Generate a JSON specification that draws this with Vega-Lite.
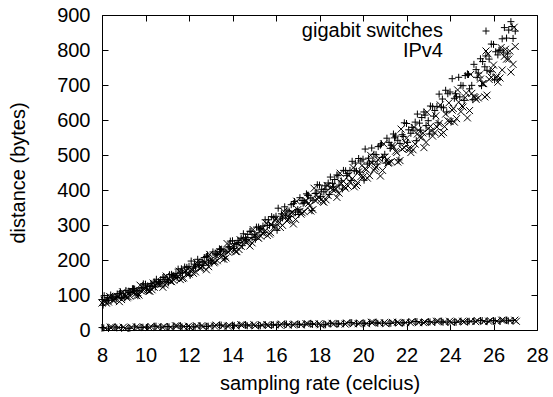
{
"$schema": "https://vega.github.io/schema/vega-lite/v6.json",
"width": 435, "height": 315,
"autosize": "none",
"padding": {"left": 102, "top": 15, "right": 16, "bottom": 67},
"config": {
  "font": "Liberation Sans",
  "view": {"stroke": "black", "strokeWidth": 1},
  "axis": {"grid": false, "domain": false, "tickColor": "black", "labelColor": "black", "titleColor": "black", "labelFontSize": 20, "titleFontSize": 20, "titleFontWeight": "normal", "tickSize": -6, "labelFlush": false, "labelOverlap": false}
},
"datasets": {
"pts": [
{"rate":8.0,"distance":7,"series":"gigabit switches"},{"rate":8.3,"distance":5,"series":"gigabit switches"},{"rate":8.6,"distance":9,"series":"gigabit switches"},{"rate":8.9,"distance":7,"series":"gigabit switches"},{"rate":9.2,"distance":5,"series":"gigabit switches"},{"rate":9.5,"distance":9,"series":"gigabit switches"},{"rate":9.8,"distance":7,"series":"gigabit switches"},{"rate":10.1,"distance":8,"series":"gigabit switches"},{"rate":10.4,"distance":11,"series":"gigabit switches"},{"rate":10.7,"distance":8,"series":"gigabit switches"},
{"rate":11.0,"distance":10,"series":"gigabit switches"},{"rate":11.3,"distance":9,"series":"gigabit switches"},{"rate":11.6,"distance":12,"series":"gigabit switches"},{"rate":11.9,"distance":10,"series":"gigabit switches"},{"rate":12.2,"distance":9,"series":"gigabit switches"},{"rate":12.5,"distance":12,"series":"gigabit switches"},{"rate":12.8,"distance":10,"series":"gigabit switches"},{"rate":13.1,"distance":12,"series":"gigabit switches"},{"rate":13.4,"distance":14,"series":"gigabit switches"},{"rate":13.7,"distance":11,"series":"gigabit switches"},
{"rate":14.0,"distance":14,"series":"gigabit switches"},{"rate":14.3,"distance":12,"series":"gigabit switches"},{"rate":14.6,"distance":15,"series":"gigabit switches"},{"rate":14.9,"distance":14,"series":"gigabit switches"},{"rate":15.2,"distance":12,"series":"gigabit switches"},{"rate":15.5,"distance":15,"series":"gigabit switches"},{"rate":15.8,"distance":14,"series":"gigabit switches"},{"rate":16.1,"distance":15,"series":"gigabit switches"},{"rate":16.4,"distance":17,"series":"gigabit switches"},{"rate":16.7,"distance":15,"series":"gigabit switches"},
{"rate":17.0,"distance":17,"series":"gigabit switches"},{"rate":17.3,"distance":15,"series":"gigabit switches"},{"rate":17.6,"distance":19,"series":"gigabit switches"},{"rate":17.9,"distance":17,"series":"gigabit switches"},{"rate":18.2,"distance":15,"series":"gigabit switches"},{"rate":18.5,"distance":19,"series":"gigabit switches"},{"rate":18.8,"distance":17,"series":"gigabit switches"},{"rate":19.1,"distance":18,"series":"gigabit switches"},{"rate":19.4,"distance":21,"series":"gigabit switches"},{"rate":19.7,"distance":18,"series":"gigabit switches"},
{"rate":20.0,"distance":20,"series":"gigabit switches"},{"rate":20.3,"distance":19,"series":"gigabit switches"},{"rate":20.6,"distance":22,"series":"gigabit switches"},{"rate":20.9,"distance":20,"series":"gigabit switches"},{"rate":21.2,"distance":19,"series":"gigabit switches"},{"rate":21.5,"distance":22,"series":"gigabit switches"},{"rate":21.8,"distance":20,"series":"gigabit switches"},{"rate":22.1,"distance":22,"series":"gigabit switches"},{"rate":22.4,"distance":24,"series":"gigabit switches"},{"rate":22.7,"distance":21,"series":"gigabit switches"},
{"rate":23.0,"distance":24,"series":"gigabit switches"},{"rate":23.3,"distance":22,"series":"gigabit switches"},{"rate":23.6,"distance":25,"series":"gigabit switches"},{"rate":23.9,"distance":23,"series":"gigabit switches"},{"rate":24.2,"distance":22,"series":"gigabit switches"},{"rate":24.5,"distance":25,"series":"gigabit switches"},{"rate":24.8,"distance":23,"series":"gigabit switches"},{"rate":25.1,"distance":25,"series":"gigabit switches"},{"rate":25.4,"distance":27,"series":"gigabit switches"},{"rate":25.7,"distance":24,"series":"gigabit switches"},
{"rate":26.0,"distance":27,"series":"gigabit switches"},{"rate":26.3,"distance":25,"series":"gigabit switches"},{"rate":26.6,"distance":28,"series":"gigabit switches"},{"rate":26.9,"distance":27,"series":"gigabit switches"},
{"rate":8.15,"distance":5,"series":"IPv4"},{"rate":8.45,"distance":8,"series":"IPv4"},{"rate":8.75,"distance":7,"series":"IPv4"},{"rate":9.05,"distance":5,"series":"IPv4"},{"rate":9.35,"distance":8,"series":"IPv4"},{"rate":9.65,"distance":7,"series":"IPv4"},{"rate":9.95,"distance":8,"series":"IPv4"},{"rate":10.25,"distance":10,"series":"IPv4"},{"rate":10.55,"distance":8,"series":"IPv4"},{"rate":10.85,"distance":10,"series":"IPv4"},
{"rate":11.15,"distance":8,"series":"IPv4"},{"rate":11.45,"distance":12,"series":"IPv4"},{"rate":11.75,"distance":10,"series":"IPv4"},{"rate":12.05,"distance":8,"series":"IPv4"},{"rate":12.35,"distance":12,"series":"IPv4"},{"rate":12.65,"distance":10,"series":"IPv4"},{"rate":12.95,"distance":11,"series":"IPv4"},{"rate":13.25,"distance":14,"series":"IPv4"},{"rate":13.55,"distance":11,"series":"IPv4"},{"rate":13.85,"distance":13,"series":"IPv4"},
{"rate":14.15,"distance":12,"series":"IPv4"},{"rate":14.45,"distance":15,"series":"IPv4"},{"rate":14.75,"distance":13,"series":"IPv4"},{"rate":15.05,"distance":12,"series":"IPv4"},{"rate":15.35,"distance":15,"series":"IPv4"},{"rate":15.65,"distance":13,"series":"IPv4"},{"rate":15.95,"distance":15,"series":"IPv4"},{"rate":16.25,"distance":17,"series":"IPv4"},{"rate":16.55,"distance":14,"series":"IPv4"},{"rate":16.85,"distance":17,"series":"IPv4"},
{"rate":17.15,"distance":15,"series":"IPv4"},{"rate":17.45,"distance":18,"series":"IPv4"},{"rate":17.75,"distance":17,"series":"IPv4"},{"rate":18.05,"distance":15,"series":"IPv4"},{"rate":18.35,"distance":18,"series":"IPv4"},{"rate":18.65,"distance":17,"series":"IPv4"},{"rate":18.95,"distance":18,"series":"IPv4"},{"rate":19.25,"distance":20,"series":"IPv4"},{"rate":19.55,"distance":18,"series":"IPv4"},{"rate":19.85,"distance":20,"series":"IPv4"},
{"rate":20.15,"distance":18,"series":"IPv4"},{"rate":20.45,"distance":22,"series":"IPv4"},{"rate":20.75,"distance":20,"series":"IPv4"},{"rate":21.05,"distance":18,"series":"IPv4"},{"rate":21.35,"distance":22,"series":"IPv4"},{"rate":21.65,"distance":20,"series":"IPv4"},{"rate":21.95,"distance":21,"series":"IPv4"},{"rate":22.25,"distance":24,"series":"IPv4"},{"rate":22.55,"distance":21,"series":"IPv4"},{"rate":22.85,"distance":23,"series":"IPv4"},
{"rate":23.15,"distance":22,"series":"IPv4"},{"rate":23.45,"distance":25,"series":"IPv4"},{"rate":23.75,"distance":23,"series":"IPv4"},{"rate":24.05,"distance":22,"series":"IPv4"},{"rate":24.35,"distance":25,"series":"IPv4"},{"rate":24.65,"distance":23,"series":"IPv4"},{"rate":24.95,"distance":25,"series":"IPv4"},{"rate":25.25,"distance":27,"series":"IPv4"},{"rate":25.55,"distance":24,"series":"IPv4"},{"rate":25.85,"distance":27,"series":"IPv4"},
{"rate":26.15,"distance":25,"series":"IPv4"},{"rate":26.45,"distance":28,"series":"IPv4"},{"rate":26.75,"distance":27,"series":"IPv4"},{"rate":27.05,"distance":25,"series":"IPv4"},
{"rate":8.08,"distance":6,"series":"gigabit switches"},{"rate":8.38,"distance":8,"series":"IPv4"},{"rate":8.68,"distance":6,"series":"gigabit switches"},{"rate":8.98,"distance":8,"series":"IPv4"},{"rate":9.28,"distance":5,"series":"gigabit switches"},{"rate":9.58,"distance":9,"series":"IPv4"},{"rate":9.88,"distance":8,"series":"gigabit switches"},{"rate":10.18,"distance":7,"series":"IPv4"},{"rate":10.48,"distance":11,"series":"gigabit switches"},{"rate":10.78,"distance":8,"series":"IPv4"},
{"rate":11.08,"distance":9,"series":"gigabit switches"},{"rate":11.38,"distance":12,"series":"IPv4"},{"rate":11.68,"distance":9,"series":"gigabit switches"},{"rate":11.98,"distance":11,"series":"IPv4"},{"rate":12.28,"distance":9,"series":"gigabit switches"},{"rate":12.58,"distance":12,"series":"IPv4"},{"rate":12.88,"distance":11,"series":"gigabit switches"},{"rate":13.18,"distance":11,"series":"IPv4"},{"rate":13.48,"distance":14,"series":"gigabit switches"},{"rate":13.78,"distance":11,"series":"IPv4"},
{"rate":14.08,"distance":13,"series":"gigabit switches"},{"rate":14.38,"distance":15,"series":"IPv4"},{"rate":14.68,"distance":12,"series":"gigabit switches"},{"rate":14.98,"distance":15,"series":"IPv4"},{"rate":15.28,"distance":12,"series":"gigabit switches"},{"rate":15.58,"distance":15,"series":"IPv4"},{"rate":15.88,"distance":15,"series":"gigabit switches"},{"rate":16.18,"distance":14,"series":"IPv4"},{"rate":16.48,"distance":17,"series":"gigabit switches"},{"rate":16.78,"distance":15,"series":"IPv4"},
{"rate":17.08,"distance":16,"series":"gigabit switches"},{"rate":17.38,"distance":18,"series":"IPv4"},{"rate":17.68,"distance":16,"series":"gigabit switches"},{"rate":17.98,"distance":18,"series":"IPv4"},{"rate":18.28,"distance":15,"series":"gigabit switches"},{"rate":18.58,"distance":19,"series":"IPv4"},{"rate":18.88,"distance":18,"series":"gigabit switches"},{"rate":19.18,"distance":17,"series":"IPv4"},{"rate":19.48,"distance":21,"series":"gigabit switches"},{"rate":19.78,"distance":18,"series":"IPv4"},
{"rate":20.08,"distance":19,"series":"gigabit switches"},{"rate":20.38,"distance":22,"series":"IPv4"},{"rate":20.68,"distance":19,"series":"gigabit switches"},{"rate":20.98,"distance":21,"series":"IPv4"},{"rate":21.28,"distance":19,"series":"gigabit switches"},{"rate":21.58,"distance":22,"series":"IPv4"},{"rate":21.88,"distance":21,"series":"gigabit switches"},{"rate":22.18,"distance":21,"series":"IPv4"},{"rate":22.48,"distance":24,"series":"gigabit switches"},{"rate":22.78,"distance":21,"series":"IPv4"},
{"rate":23.08,"distance":23,"series":"gigabit switches"},{"rate":23.38,"distance":25,"series":"IPv4"},{"rate":23.68,"distance":22,"series":"gigabit switches"},{"rate":23.98,"distance":25,"series":"IPv4"},{"rate":24.28,"distance":22,"series":"gigabit switches"},{"rate":24.58,"distance":25,"series":"IPv4"},{"rate":24.88,"distance":25,"series":"gigabit switches"},{"rate":25.18,"distance":24,"series":"IPv4"},{"rate":25.48,"distance":27,"series":"gigabit switches"},{"rate":25.78,"distance":25,"series":"IPv4"},
{"rate":26.08,"distance":26,"series":"gigabit switches"},{"rate":26.38,"distance":28,"series":"IPv4"},{"rate":26.68,"distance":26,"series":"gigabit switches"},{"rate":26.98,"distance":28,"series":"IPv4"},
{"rate":8.0,"distance":87,"series":"gigabit switches"},{"rate":8.2,"distance":84,"series":"gigabit switches"},{"rate":8.4,"distance":100,"series":"gigabit switches"},{"rate":8.6,"distance":95,"series":"gigabit switches"},{"rate":8.8,"distance":104,"series":"gigabit switches"},{"rate":9.0,"distance":97,"series":"gigabit switches"},{"rate":9.2,"distance":109,"series":"gigabit switches"},{"rate":9.4,"distance":118,"series":"gigabit switches"},{"rate":9.6,"distance":113,"series":"gigabit switches"},{"rate":9.8,"distance":120,"series":"gigabit switches"},
{"rate":10.0,"distance":131,"series":"gigabit switches"},{"rate":10.2,"distance":124,"series":"gigabit switches"},{"rate":10.4,"distance":137,"series":"gigabit switches"},{"rate":10.6,"distance":138,"series":"gigabit switches"},{"rate":10.8,"distance":150,"series":"gigabit switches"},{"rate":11.0,"distance":144,"series":"gigabit switches"},{"rate":11.2,"distance":159,"series":"gigabit switches"},{"rate":11.4,"distance":161,"series":"gigabit switches"},{"rate":11.6,"distance":163,"series":"gigabit switches"},{"rate":11.8,"distance":180,"series":"gigabit switches"},
{"rate":12.0,"distance":182,"series":"gigabit switches"},{"rate":12.2,"distance":177,"series":"gigabit switches"},{"rate":12.4,"distance":202,"series":"gigabit switches"},{"rate":12.6,"distance":195,"series":"gigabit switches"},{"rate":12.8,"distance":210,"series":"gigabit switches"},{"rate":13.0,"distance":199,"series":"gigabit switches"},{"rate":13.2,"distance":218,"series":"gigabit switches"},{"rate":13.4,"distance":232,"series":"gigabit switches"},{"rate":13.6,"distance":226,"series":"gigabit switches"},{"rate":13.8,"distance":237,"series":"gigabit switches"},
{"rate":14.0,"distance":255,"series":"gigabit switches"},{"rate":14.2,"distance":244,"series":"gigabit switches"},{"rate":14.4,"distance":262,"series":"gigabit switches"},{"rate":14.6,"distance":264,"series":"gigabit switches"},{"rate":14.8,"distance":282,"series":"gigabit switches"},{"rate":15.0,"distance":272,"series":"gigabit switches"},{"rate":15.2,"distance":294,"series":"gigabit switches"},{"rate":15.4,"distance":297,"series":"gigabit switches"},{"rate":15.6,"distance":299,"series":"gigabit switches"},{"rate":15.8,"distance":324,"series":"gigabit switches"},
{"rate":16.0,"distance":325,"series":"gigabit switches"},{"rate":16.2,"distance":317,"series":"gigabit switches"},{"rate":16.4,"distance":352,"series":"gigabit switches"},{"rate":16.6,"distance":340,"series":"gigabit switches"},{"rate":16.8,"distance":361,"series":"gigabit switches"},{"rate":17.0,"distance":344,"series":"gigabit switches"},{"rate":17.2,"distance":370,"series":"gigabit switches"},{"rate":17.4,"distance":389,"series":"gigabit switches"},{"rate":17.6,"distance":377,"series":"gigabit switches"},{"rate":17.8,"distance":390,"series":"gigabit switches"},
{"rate":18.0,"distance":414,"series":"gigabit switches"},{"rate":18.2,"distance":395,"series":"gigabit switches"},{"rate":18.4,"distance":420,"series":"gigabit switches"},{"rate":18.6,"distance":419,"series":"gigabit switches"},{"rate":18.8,"distance":443,"series":"gigabit switches"},{"rate":19.0,"distance":426,"series":"gigabit switches"},{"rate":19.2,"distance":455,"series":"gigabit switches"},{"rate":19.4,"distance":456,"series":"gigabit switches"},{"rate":19.6,"distance":455,"series":"gigabit switches"},{"rate":19.8,"distance":490,"series":"gigabit switches"},
{"rate":20.0,"distance":488,"series":"gigabit switches"},{"rate":20.2,"distance":474,"series":"gigabit switches"},{"rate":20.4,"distance":520,"series":"gigabit switches"},{"rate":20.6,"distance":501,"series":"gigabit switches"},{"rate":20.8,"distance":528,"series":"gigabit switches"},{"rate":21.0,"distance":502,"series":"gigabit switches"},{"rate":21.2,"distance":536,"series":"gigabit switches"},{"rate":21.4,"distance":560,"series":"gigabit switches"},{"rate":21.6,"distance":542,"series":"gigabit switches"},{"rate":21.8,"distance":558,"series":"gigabit switches"},
{"rate":22.0,"distance":590,"series":"gigabit switches"},{"rate":22.2,"distance":562,"series":"gigabit switches"},{"rate":22.4,"distance":594,"series":"gigabit switches"},{"rate":22.6,"distance":591,"series":"gigabit switches"},{"rate":22.8,"distance":623,"series":"gigabit switches"},{"rate":23.0,"distance":598,"series":"gigabit switches"},{"rate":23.2,"distance":638,"series":"gigabit switches"},{"rate":23.4,"distance":639,"series":"gigabit switches"},{"rate":23.6,"distance":637,"series":"gigabit switches"},{"rate":23.8,"distance":685,"series":"gigabit switches"},
{"rate":24.0,"distance":680,"series":"gigabit switches"},{"rate":24.2,"distance":662,"series":"gigabit switches"},{"rate":24.4,"distance":722,"series":"gigabit switches"},{"rate":24.6,"distance":698,"series":"gigabit switches"},{"rate":24.8,"distance":732,"series":"gigabit switches"},{"rate":25.0,"distance":699,"series":"gigabit switches"},{"rate":25.2,"distance":744,"series":"gigabit switches"},{"rate":25.4,"distance":775,"series":"gigabit switches"},{"rate":25.6,"distance":752,"series":"gigabit switches"},{"rate":25.8,"distance":774,"series":"gigabit switches"},
{"rate":26.0,"distance":816,"series":"gigabit switches"},{"rate":26.2,"distance":786,"series":"gigabit switches"},{"rate":26.4,"distance":832,"series":"gigabit switches"},{"rate":26.6,"distance":834,"series":"gigabit switches"},{"rate":26.8,"distance":881,"series":"gigabit switches"},{"rate":27.0,"distance":854,"series":"gigabit switches"},
{"rate":8.1,"distance":98,"series":"gigabit switches"},{"rate":8.3,"distance":85,"series":"gigabit switches"},{"rate":8.5,"distance":94,"series":"gigabit switches"},{"rate":8.7,"distance":103,"series":"gigabit switches"},{"rate":8.9,"distance":93,"series":"gigabit switches"},{"rate":9.1,"distance":113,"series":"gigabit switches"},{"rate":9.3,"distance":107,"series":"gigabit switches"},{"rate":9.5,"distance":117,"series":"gigabit switches"},{"rate":9.7,"distance":111,"series":"gigabit switches"},{"rate":9.9,"distance":132,"series":"gigabit switches"},
{"rate":10.1,"distance":126,"series":"gigabit switches"},{"rate":10.3,"distance":128,"series":"gigabit switches"},{"rate":10.5,"distance":145,"series":"gigabit switches"},{"rate":10.7,"distance":144,"series":"gigabit switches"},{"rate":10.9,"distance":138,"series":"gigabit switches"},{"rate":11.1,"distance":158,"series":"gigabit switches"},{"rate":11.3,"distance":156,"series":"gigabit switches"},{"rate":11.5,"distance":174,"series":"gigabit switches"},{"rate":11.7,"distance":163,"series":"gigabit switches"},{"rate":11.9,"distance":179,"series":"gigabit switches"},
{"rate":12.1,"distance":197,"series":"gigabit switches"},{"rate":12.3,"distance":180,"series":"gigabit switches"},{"rate":12.5,"distance":194,"series":"gigabit switches"},{"rate":12.7,"distance":207,"series":"gigabit switches"},{"rate":12.9,"distance":194,"series":"gigabit switches"},{"rate":13.1,"distance":223,"series":"gigabit switches"},{"rate":13.3,"distance":216,"series":"gigabit switches"},{"rate":13.5,"distance":231,"series":"gigabit switches"},{"rate":13.7,"distance":223,"series":"gigabit switches"},{"rate":13.9,"distance":254,"series":"gigabit switches"},
{"rate":14.1,"distance":247,"series":"gigabit switches"},{"rate":14.3,"distance":250,"series":"gigabit switches"},{"rate":14.5,"distance":275,"series":"gigabit switches"},{"rate":14.7,"distance":273,"series":"gigabit switches"},{"rate":14.9,"distance":264,"series":"gigabit switches"},{"rate":15.1,"distance":294,"series":"gigabit switches"},{"rate":15.3,"distance":290,"series":"gigabit switches"},{"rate":15.5,"distance":315,"series":"gigabit switches"},{"rate":15.7,"distance":299,"series":"gigabit switches"},{"rate":15.9,"distance":321,"series":"gigabit switches"},
{"rate":16.1,"distance":348,"series":"gigabit switches"},{"rate":16.3,"distance":320,"series":"gigabit switches"},{"rate":16.5,"distance":340,"series":"gigabit switches"},{"rate":16.7,"distance":358,"series":"gigabit switches"},{"rate":16.9,"distance":337,"series":"gigabit switches"},{"rate":17.1,"distance":378,"series":"gigabit switches"},{"rate":17.3,"distance":365,"series":"gigabit switches"},{"rate":17.5,"distance":385,"series":"gigabit switches"},{"rate":17.7,"distance":371,"series":"gigabit switches"},{"rate":17.9,"distance":415,"series":"gigabit switches"},
{"rate":18.1,"distance":402,"series":"gigabit switches"},{"rate":18.3,"distance":402,"series":"gigabit switches"},{"rate":18.5,"distance":437,"series":"gigabit switches"},{"rate":18.7,"distance":430,"series":"gigabit switches"},{"rate":18.9,"distance":414,"series":"gigabit switches"},{"rate":19.1,"distance":456,"series":"gigabit switches"},{"rate":19.3,"distance":447,"series":"gigabit switches"},{"rate":19.5,"distance":482,"series":"gigabit switches"},{"rate":19.7,"distance":454,"series":"gigabit switches"},{"rate":19.9,"distance":483,"series":"gigabit switches"},
{"rate":20.1,"distance":517,"series":"gigabit switches"},{"rate":20.3,"distance":477,"series":"gigabit switches"},{"rate":20.5,"distance":502,"series":"gigabit switches"},{"rate":20.7,"distance":524,"series":"gigabit switches"},{"rate":20.9,"distance":493,"series":"gigabit switches"},{"rate":21.1,"distance":548,"series":"gigabit switches"},{"rate":21.3,"distance":528,"series":"gigabit switches"},{"rate":21.5,"distance":554,"series":"gigabit switches"},{"rate":21.7,"distance":533,"series":"gigabit switches"},{"rate":21.9,"distance":592,"series":"gigabit switches"},
{"rate":22.1,"distance":572,"series":"gigabit switches"},{"rate":22.3,"distance":571,"series":"gigabit switches"},{"rate":22.5,"distance":617,"series":"gigabit switches"},{"rate":22.7,"distance":607,"series":"gigabit switches"},{"rate":22.9,"distance":584,"series":"gigabit switches"},{"rate":23.1,"distance":640,"series":"gigabit switches"},{"rate":23.3,"distance":627,"series":"gigabit switches"},{"rate":23.5,"distance":674,"series":"gigabit switches"},{"rate":23.7,"distance":635,"series":"gigabit switches"},{"rate":23.9,"distance":675,"series":"gigabit switches"},
{"rate":24.1,"distance":718,"series":"gigabit switches"},{"rate":24.3,"distance":666,"series":"gigabit switches"},{"rate":24.5,"distance":699,"series":"gigabit switches"},{"rate":24.7,"distance":727,"series":"gigabit switches"},{"rate":24.9,"distance":689,"series":"gigabit switches"},{"rate":25.1,"distance":759,"series":"gigabit switches"},{"rate":25.3,"distance":734,"series":"gigabit switches"},{"rate":25.5,"distance":767,"series":"gigabit switches"},{"rate":25.7,"distance":742,"series":"gigabit switches"},{"rate":25.9,"distance":817,"series":"gigabit switches"},
{"rate":26.1,"distance":795,"series":"gigabit switches"},{"rate":26.3,"distance":800,"series":"gigabit switches"},{"rate":26.5,"distance":864,"series":"gigabit switches"},{"rate":26.7,"distance":857,"series":"gigabit switches"},{"rate":26.9,"distance":833,"series":"gigabit switches"},
{"rate":8.05,"distance":71,"series":"gigabit switches"},{"rate":8.25,"distance":93,"series":"gigabit switches"},{"rate":8.45,"distance":91,"series":"gigabit switches"},{"rate":8.65,"distance":89,"series":"gigabit switches"},{"rate":8.85,"distance":109,"series":"gigabit switches"},{"rate":9.05,"distance":92,"series":"gigabit switches"},{"rate":9.25,"distance":107,"series":"gigabit switches"},{"rate":9.45,"distance":118,"series":"gigabit switches"},{"rate":9.65,"distance":98,"series":"gigabit switches"},{"rate":9.85,"distance":121,"series":"gigabit switches"},
{"rate":10.05,"distance":117,"series":"gigabit switches"},{"rate":10.25,"distance":133,"series":"gigabit switches"},{"rate":10.45,"distance":123,"series":"gigabit switches"},{"rate":10.65,"distance":134,"series":"gigabit switches"},{"rate":10.85,"distance":151,"series":"gigabit switches"},{"rate":11.05,"distance":135,"series":"gigabit switches"},{"rate":11.25,"distance":154,"series":"gigabit switches"},{"rate":11.45,"distance":150,"series":"gigabit switches"},{"rate":11.65,"distance":175,"series":"gigabit switches"},{"rate":11.85,"distance":165,"series":"gigabit switches"},
{"rate":12.05,"distance":156,"series":"gigabit switches"},{"rate":12.25,"distance":188,"series":"gigabit switches"},{"rate":12.45,"distance":186,"series":"gigabit switches"},{"rate":12.65,"distance":184,"series":"gigabit switches"},{"rate":12.85,"distance":214,"series":"gigabit switches"},{"rate":13.05,"distance":191,"series":"gigabit switches"},{"rate":13.25,"distance":214,"series":"gigabit switches"},{"rate":13.45,"distance":230,"series":"gigabit switches"},{"rate":13.65,"distance":203,"series":"gigabit switches"},{"rate":13.85,"distance":238,"series":"gigabit switches"},
{"rate":14.05,"distance":233,"series":"gigabit switches"},{"rate":14.25,"distance":256,"series":"gigabit switches"},{"rate":14.45,"distance":241,"series":"gigabit switches"},{"rate":14.65,"distance":258,"series":"gigabit switches"},{"rate":14.85,"distance":282,"series":"gigabit switches"},{"rate":15.05,"distance":259,"series":"gigabit switches"},{"rate":15.25,"distance":286,"series":"gigabit switches"},{"rate":15.45,"distance":279,"series":"gigabit switches"},{"rate":15.65,"distance":315,"series":"gigabit switches"},{"rate":15.85,"distance":300,"series":"gigabit switches"},
{"rate":16.05,"distance":285,"series":"gigabit switches"},{"rate":16.25,"distance":332,"series":"gigabit switches"},{"rate":16.45,"distance":328,"series":"gigabit switches"},{"rate":16.65,"distance":324,"series":"gigabit switches"},{"rate":16.85,"distance":367,"series":"gigabit switches"},{"rate":17.05,"distance":330,"series":"gigabit switches"},{"rate":17.25,"distance":362,"series":"gigabit switches"},{"rate":17.45,"distance":385,"series":"gigabit switches"},{"rate":17.65,"distance":341,"series":"gigabit switches"},{"rate":17.85,"distance":391,"series":"gigabit switches"},
{"rate":18.05,"distance":381,"series":"gigabit switches"},{"rate":18.25,"distance":412,"series":"gigabit switches"},{"rate":18.45,"distance":387,"series":"gigabit switches"},{"rate":18.65,"distance":409,"series":"gigabit switches"},{"rate":18.85,"distance":441,"series":"gigabit switches"},{"rate":19.05,"distance":403,"series":"gigabit switches"},{"rate":19.25,"distance":441,"series":"gigabit switches"},{"rate":19.45,"distance":427,"series":"gigabit switches"},{"rate":19.65,"distance":477,"series":"gigabit switches"},{"rate":19.85,"distance":451,"series":"gigabit switches"},
{"rate":20.05,"distance":428,"series":"gigabit switches"},{"rate":20.25,"distance":491,"series":"gigabit switches"},{"rate":20.45,"distance":482,"series":"gigabit switches"},{"rate":20.65,"distance":474,"series":"gigabit switches"},{"rate":20.85,"distance":532,"series":"gigabit switches"},{"rate":21.05,"distance":477,"series":"gigabit switches"},{"rate":21.25,"distance":519,"series":"gigabit switches"},{"rate":21.45,"distance":549,"series":"gigabit switches"},{"rate":21.65,"distance":486,"series":"gigabit switches"},{"rate":21.85,"distance":553,"series":"gigabit switches"},
{"rate":22.05,"distance":536,"series":"gigabit switches"},{"rate":22.25,"distance":579,"series":"gigabit switches"},{"rate":22.45,"distance":541,"series":"gigabit switches"},{"rate":22.65,"distance":571,"series":"gigabit switches"},{"rate":22.85,"distance":614,"series":"gigabit switches"},{"rate":23.05,"distance":560,"series":"gigabit switches"},{"rate":23.25,"distance":611,"series":"gigabit switches"},{"rate":23.45,"distance":592,"series":"gigabit switches"},{"rate":23.65,"distance":660,"series":"gigabit switches"},{"rate":23.85,"distance":623,"series":"gigabit switches"},
{"rate":24.05,"distance":596,"series":"gigabit switches"},{"rate":24.25,"distance":675,"series":"gigabit switches"},{"rate":24.45,"distance":666,"series":"gigabit switches"},{"rate":24.65,"distance":656,"series":"gigabit switches"},{"rate":24.85,"distance":730,"series":"gigabit switches"},{"rate":25.05,"distance":658,"series":"gigabit switches"},{"rate":25.25,"distance":722,"series":"gigabit switches"},{"rate":25.45,"distance":698,"series":"gigabit switches"},{"rate":25.65,"distance":783,"series":"gigabit switches"},{"rate":25.85,"distance":738,"series":"gigabit switches"},
{"rate":26.05,"distance":715,"series":"gigabit switches"},{"rate":26.25,"distance":799,"series":"gigabit switches"},{"rate":26.45,"distance":794,"series":"gigabit switches"},{"rate":26.65,"distance":789,"series":"gigabit switches"},{"rate":26.85,"distance":867,"series":"gigabit switches"},
{"rate":8.1,"distance":85,"series":"IPv4"},{"rate":8.3,"distance":80,"series":"IPv4"},{"rate":8.5,"distance":85,"series":"IPv4"},{"rate":8.7,"distance":96,"series":"IPv4"},{"rate":8.9,"distance":87,"series":"IPv4"},{"rate":9.1,"distance":97,"series":"IPv4"},{"rate":9.3,"distance":97,"series":"IPv4"},{"rate":9.5,"distance":108,"series":"IPv4"},{"rate":9.7,"distance":100,"series":"IPv4"},{"rate":9.9,"distance":113,"series":"IPv4"},
{"rate":10.1,"distance":114,"series":"IPv4"},{"rate":10.3,"distance":115,"series":"IPv4"},{"rate":10.5,"distance":132,"series":"IPv4"},{"rate":10.7,"distance":131,"series":"IPv4"},{"rate":10.9,"distance":129,"series":"IPv4"},{"rate":11.1,"distance":146,"series":"IPv4"},{"rate":11.3,"distance":142,"series":"IPv4"},{"rate":11.5,"distance":153,"series":"IPv4"},{"rate":11.7,"distance":147,"series":"IPv4"},{"rate":11.9,"distance":160,"series":"IPv4"},
{"rate":12.1,"distance":173,"series":"IPv4"},{"rate":12.3,"distance":166,"series":"IPv4"},{"rate":12.5,"distance":176,"series":"IPv4"},{"rate":12.7,"distance":193,"series":"IPv4"},{"rate":12.9,"distance":181,"series":"IPv4"},{"rate":13.1,"distance":198,"series":"IPv4"},{"rate":13.3,"distance":198,"series":"IPv4"},{"rate":13.5,"distance":216,"series":"IPv4"},{"rate":13.7,"distance":206,"series":"IPv4"},{"rate":13.9,"distance":227,"series":"IPv4"},
{"rate":14.1,"distance":229,"series":"IPv4"},{"rate":14.3,"distance":230,"series":"IPv4"},{"rate":14.5,"distance":255,"series":"IPv4"},{"rate":14.7,"distance":253,"series":"IPv4"},{"rate":14.9,"distance":249,"series":"IPv4"},{"rate":15.1,"distance":274,"series":"IPv4"},{"rate":15.3,"distance":268,"series":"IPv4"},{"rate":15.5,"distance":284,"series":"IPv4"},{"rate":15.7,"distance":274,"series":"IPv4"},{"rate":15.9,"distance":293,"series":"IPv4"},
{"rate":16.1,"distance":311,"series":"IPv4"},{"rate":16.3,"distance":299,"series":"IPv4"},{"rate":16.5,"distance":312,"series":"IPv4"},{"rate":16.7,"distance":335,"series":"IPv4"},{"rate":16.9,"distance":316,"series":"IPv4"},{"rate":17.1,"distance":339,"series":"IPv4"},{"rate":17.3,"distance":338,"series":"IPv4"},{"rate":17.5,"distance":362,"series":"IPv4"},{"rate":17.7,"distance":344,"series":"IPv4"},{"rate":17.9,"distance":373,"series":"IPv4"},
{"rate":18.1,"distance":374,"series":"IPv4"},{"rate":18.3,"distance":372,"series":"IPv4"},{"rate":18.5,"distance":406,"series":"IPv4"},{"rate":18.7,"distance":400,"series":"IPv4"},{"rate":18.9,"distance":391,"series":"IPv4"},{"rate":19.1,"distance":425,"series":"IPv4"},{"rate":19.3,"distance":412,"series":"IPv4"},{"rate":19.5,"distance":432,"series":"IPv4"},{"rate":19.7,"distance":413,"series":"IPv4"},{"rate":19.9,"distance":438,"series":"IPv4"},
{"rate":20.1,"distance":461,"series":"IPv4"},{"rate":20.3,"distance":441,"series":"IPv4"},{"rate":20.5,"distance":456,"series":"IPv4"},{"rate":20.7,"distance":486,"series":"IPv4"},{"rate":20.9,"distance":456,"series":"IPv4"},{"rate":21.1,"distance":486,"series":"IPv4"},{"rate":21.3,"distance":481,"series":"IPv4"},{"rate":21.5,"distance":511,"series":"IPv4"},{"rate":21.7,"distance":484,"series":"IPv4"},{"rate":21.9,"distance":521,"series":"IPv4"},
{"rate":22.1,"distance":519,"series":"IPv4"},{"rate":22.3,"distance":515,"series":"IPv4"},{"rate":22.5,"distance":560,"series":"IPv4"},{"rate":22.7,"distance":551,"series":"IPv4"},{"rate":22.9,"distance":536,"series":"IPv4"},{"rate":23.1,"distance":582,"series":"IPv4"},{"rate":23.3,"distance":564,"series":"IPv4"},{"rate":23.5,"distance":590,"series":"IPv4"},{"rate":23.7,"distance":564,"series":"IPv4"},{"rate":23.9,"distance":598,"series":"IPv4"},
{"rate":24.1,"distance":628,"series":"IPv4"},{"rate":24.3,"distance":604,"series":"IPv4"},{"rate":24.5,"distance":624,"series":"IPv4"},{"rate":24.7,"distance":664,"series":"IPv4"},{"rate":24.9,"distance":627,"series":"IPv4"},{"rate":25.1,"distance":667,"series":"IPv4"},{"rate":25.3,"distance":663,"series":"IPv4"},{"rate":25.5,"distance":704,"series":"IPv4"},{"rate":25.7,"distance":671,"series":"IPv4"},{"rate":25.9,"distance":722,"series":"IPv4"},
{"rate":26.1,"distance":722,"series":"IPv4"},{"rate":26.3,"distance":720,"series":"IPv4"},{"rate":26.5,"distance":782,"series":"IPv4"},{"rate":26.7,"distance":774,"series":"IPv4"},{"rate":26.9,"distance":759,"series":"IPv4"},
{"rate":8.0,"distance":77,"series":"IPv4"},{"rate":8.2,"distance":77,"series":"IPv4"},{"rate":8.4,"distance":92,"series":"IPv4"},{"rate":8.6,"distance":89,"series":"IPv4"},{"rate":8.8,"distance":81,"series":"IPv4"},{"rate":9.0,"distance":100,"series":"IPv4"},{"rate":9.2,"distance":95,"series":"IPv4"},{"rate":9.4,"distance":111,"series":"IPv4"},{"rate":9.6,"distance":98,"series":"IPv4"},{"rate":9.8,"distance":112,"series":"IPv4"},
{"rate":10.0,"distance":123,"series":"IPv4"},{"rate":10.2,"distance":111,"series":"IPv4"},{"rate":10.4,"distance":122,"series":"IPv4"},{"rate":10.6,"distance":131,"series":"IPv4"},{"rate":10.8,"distance":122,"series":"IPv4"},{"rate":11.0,"distance":143,"series":"IPv4"},{"rate":11.2,"distance":138,"series":"IPv4"},{"rate":11.4,"distance":149,"series":"IPv4"},{"rate":11.6,"distance":144,"series":"IPv4"},{"rate":11.8,"distance":166,"series":"IPv4"},
{"rate":12.0,"distance":160,"series":"IPv4"},{"rate":12.2,"distance":162,"series":"IPv4"},{"rate":12.4,"distance":185,"series":"IPv4"},{"rate":12.6,"distance":182,"series":"IPv4"},{"rate":12.8,"distance":172,"series":"IPv4"},{"rate":13.0,"distance":200,"series":"IPv4"},{"rate":13.2,"distance":195,"series":"IPv4"},{"rate":13.4,"distance":220,"series":"IPv4"},{"rate":13.6,"distance":202,"series":"IPv4"},{"rate":13.8,"distance":223,"series":"IPv4"},
{"rate":14.0,"distance":241,"series":"IPv4"},{"rate":14.2,"distance":224,"series":"IPv4"},{"rate":14.4,"distance":239,"series":"IPv4"},{"rate":14.6,"distance":252,"series":"IPv4"},{"rate":14.8,"distance":240,"series":"IPv4"},{"rate":15.0,"distance":270,"series":"IPv4"},{"rate":15.2,"distance":262,"series":"IPv4"},{"rate":15.4,"distance":277,"series":"IPv4"},{"rate":15.6,"distance":270,"series":"IPv4"},{"rate":15.8,"distance":301,"series":"IPv4"},
{"rate":16.0,"distance":293,"series":"IPv4"},{"rate":16.2,"distance":293,"series":"IPv4"},{"rate":16.4,"distance":327,"series":"IPv4"},{"rate":16.6,"distance":320,"series":"IPv4"},{"rate":16.8,"distance":303,"series":"IPv4"},{"rate":17.0,"distance":344,"series":"IPv4"},{"rate":17.2,"distance":335,"series":"IPv4"},{"rate":17.4,"distance":369,"series":"IPv4"},{"rate":17.6,"distance":340,"series":"IPv4"},{"rate":17.8,"distance":370,"series":"IPv4"},
{"rate":18.0,"distance":394,"series":"IPv4"},{"rate":18.2,"distance":365,"series":"IPv4"},{"rate":18.4,"distance":384,"series":"IPv4"},{"rate":18.6,"distance":401,"series":"IPv4"},{"rate":18.8,"distance":379,"series":"IPv4"},{"rate":19.0,"distance":419,"series":"IPv4"},{"rate":19.2,"distance":405,"series":"IPv4"},{"rate":19.4,"distance":424,"series":"IPv4"},{"rate":19.6,"distance":409,"series":"IPv4"},{"rate":19.8,"distance":452,"series":"IPv4"},
{"rate":20.0,"distance":437,"series":"IPv4"},{"rate":20.2,"distance":434,"series":"IPv4"},{"rate":20.4,"distance":478,"series":"IPv4"},{"rate":20.6,"distance":466,"series":"IPv4"},{"rate":20.8,"distance":440,"series":"IPv4"},{"rate":21.0,"distance":494,"series":"IPv4"},{"rate":21.2,"distance":478,"series":"IPv4"},{"rate":21.4,"distance":522,"series":"IPv4"},{"rate":21.6,"distance":480,"series":"IPv4"},{"rate":21.8,"distance":517,"series":"IPv4"},
{"rate":22.0,"distance":548,"series":"IPv4"},{"rate":22.2,"distance":507,"series":"IPv4"},{"rate":22.4,"distance":531,"series":"IPv4"},{"rate":22.6,"distance":552,"series":"IPv4"},{"rate":22.8,"distance":521,"series":"IPv4"},{"rate":23.0,"distance":575,"series":"IPv4"},{"rate":23.2,"distance":554,"series":"IPv4"},{"rate":23.4,"distance":580,"series":"IPv4"},{"rate":23.6,"distance":559,"series":"IPv4"},{"rate":23.8,"distance":617,"series":"IPv4"},
{"rate":24.0,"distance":596,"series":"IPv4"},{"rate":24.2,"distance":594,"series":"IPv4"},{"rate":24.4,"distance":651,"series":"IPv4"},{"rate":24.6,"distance":637,"series":"IPv4"},{"rate":24.8,"distance":606,"series":"IPv4"},{"rate":25.0,"distance":676,"series":"IPv4"},{"rate":25.2,"distance":659,"series":"IPv4"},{"rate":25.4,"distance":717,"series":"IPv4"},{"rate":25.6,"distance":666,"series":"IPv4"},{"rate":25.8,"distance":716,"series":"IPv4"},
{"rate":26.0,"distance":757,"series":"IPv4"},{"rate":26.2,"distance":708,"series":"IPv4"},{"rate":26.4,"distance":743,"series":"IPv4"},{"rate":26.6,"distance":774,"series":"IPv4"},{"rate":26.8,"distance":737,"series":"IPv4"},{"rate":27.0,"distance":810,"series":"IPv4"},
{"rate":8.15,"distance":81,"series":"IPv4"},{"rate":8.35,"distance":96,"series":"IPv4"},{"rate":8.55,"distance":84,"series":"IPv4"},{"rate":8.75,"distance":95,"series":"IPv4"},{"rate":8.95,"distance":109,"series":"IPv4"},{"rate":9.15,"distance":92,"series":"IPv4"},{"rate":9.35,"distance":110,"series":"IPv4"},{"rate":9.55,"distance":104,"series":"IPv4"},{"rate":9.75,"distance":128,"series":"IPv4"},{"rate":9.95,"distance":116,"series":"IPv4"},
{"rate":10.15,"distance":111,"series":"IPv4"},{"rate":10.35,"distance":134,"series":"IPv4"},{"rate":10.55,"distance":133,"series":"IPv4"},{"rate":10.75,"distance":133,"series":"IPv4"},{"rate":10.95,"distance":154,"series":"IPv4"},{"rate":11.15,"distance":139,"series":"IPv4"},{"rate":11.35,"distance":155,"series":"IPv4"},{"rate":11.55,"distance":168,"series":"IPv4"},{"rate":11.75,"distance":149,"series":"IPv4"},{"rate":11.95,"distance":174,"series":"IPv4"},
{"rate":12.15,"distance":171,"series":"IPv4"},{"rate":12.35,"distance":193,"series":"IPv4"},{"rate":12.55,"distance":177,"series":"IPv4"},{"rate":12.75,"distance":193,"series":"IPv4"},{"rate":12.95,"distance":216,"series":"IPv4"},{"rate":13.15,"distance":192,"series":"IPv4"},{"rate":13.35,"distance":219,"series":"IPv4"},{"rate":13.55,"distance":212,"series":"IPv4"},{"rate":13.75,"distance":247,"series":"IPv4"},{"rate":13.95,"distance":231,"series":"IPv4"},
{"rate":14.15,"distance":224,"series":"IPv4"},{"rate":14.35,"distance":258,"series":"IPv4"},{"rate":14.55,"distance":257,"series":"IPv4"},{"rate":14.75,"distance":256,"series":"IPv4"},{"rate":14.95,"distance":287,"series":"IPv4"},{"rate":15.15,"distance":265,"series":"IPv4"},{"rate":15.35,"distance":288,"series":"IPv4"},{"rate":15.55,"distance":305,"series":"IPv4"},{"rate":15.75,"distance":278,"series":"IPv4"},{"rate":15.95,"distance":314,"series":"IPv4"},
{"rate":16.15,"distance":307,"series":"IPv4"},{"rate":16.35,"distance":339,"series":"IPv4"},{"rate":16.55,"distance":314,"series":"IPv4"},{"rate":16.75,"distance":336,"series":"IPv4"},{"rate":16.95,"distance":368,"series":"IPv4"},{"rate":17.15,"distance":331,"series":"IPv4"},{"rate":17.35,"distance":369,"series":"IPv4"},{"rate":17.55,"distance":355,"series":"IPv4"},{"rate":17.75,"distance":405,"series":"IPv4"},{"rate":17.95,"distance":380,"series":"IPv4"},
{"rate":18.15,"distance":367,"series":"IPv4"},{"rate":18.35,"distance":413,"series":"IPv4"},{"rate":18.55,"distance":409,"series":"IPv4"},{"rate":18.75,"distance":404,"series":"IPv4"},{"rate":18.95,"distance":448,"series":"IPv4"},{"rate":19.15,"distance":410,"series":"IPv4"},{"rate":19.35,"distance":442,"series":"IPv4"},{"rate":19.55,"distance":464,"series":"IPv4"},{"rate":19.75,"distance":421,"series":"IPv4"},{"rate":19.95,"distance":470,"series":"IPv4"},
{"rate":20.15,"distance":458,"series":"IPv4"},{"rate":20.35,"distance":499,"series":"IPv4"},{"rate":20.55,"distance":461,"series":"IPv4"},{"rate":20.75,"distance":490,"series":"IPv4"},{"rate":20.95,"distance":532,"series":"IPv4"},{"rate":21.15,"distance":477,"series":"IPv4"},{"rate":21.35,"distance":528,"series":"IPv4"},{"rate":21.55,"distance":507,"series":"IPv4"},{"rate":21.75,"distance":574,"series":"IPv4"},{"rate":21.95,"distance":536,"series":"IPv4"},
{"rate":22.15,"distance":516,"series":"IPv4"},{"rate":22.35,"distance":579,"series":"IPv4"},{"rate":22.55,"distance":571,"series":"IPv4"},{"rate":22.75,"distance":563,"series":"IPv4"},{"rate":22.95,"distance":622,"series":"IPv4"},{"rate":23.15,"distance":569,"series":"IPv4"},{"rate":23.35,"distance":612,"series":"IPv4"},{"rate":23.55,"distance":643,"series":"IPv4"},{"rate":23.75,"distance":581,"series":"IPv4"},{"rate":23.95,"distance":649,"series":"IPv4"},
{"rate":24.15,"distance":633,"series":"IPv4"},{"rate":24.35,"distance":686,"series":"IPv4"},{"rate":24.55,"distance":640,"series":"IPv4"},{"rate":24.75,"distance":677,"series":"IPv4"},{"rate":24.95,"distance":730,"series":"IPv4"},{"rate":25.15,"distance":664,"series":"IPv4"},{"rate":25.35,"distance":729,"series":"IPv4"},{"rate":25.55,"distance":704,"series":"IPv4"},{"rate":25.75,"distance":789,"series":"IPv4"},{"rate":25.95,"distance":744,"series":"IPv4"},
{"rate":26.15,"distance":723,"series":"IPv4"},{"rate":26.35,"distance":807,"series":"IPv4"},{"rate":26.55,"distance":802,"series":"IPv4"},{"rate":26.75,"distance":797,"series":"IPv4"},{"rate":26.95,"distance":865,"series":"IPv4"}
]
},
"data": {"name": "pts"},
"layer": [
  {
    "mark": {"type": "point", "filled": false, "strokeWidth": 1, "size": 49, "color": "black", "opacity": 1},
    "encoding": {
      "x": {"field": "rate", "type": "quantitative", "scale": {"domain": [8, 28], "nice": false, "zero": false},
            "axis": {"orient": "bottom", "values": [8,10,12,14,16,18,20,22,24,26,28], "title": "sampling rate (celcius)", "labelPadding": 21, "titlePadding": 8}},
      "y": {"field": "distance", "type": "quantitative", "scale": {"domain": [0, 900], "nice": false},
            "axis": {"orient": "left", "values": [0,100,200,300,400,500,600,700,800,900], "title": "distance (bytes)", "labelPadding": 18, "titlePadding": 28}},
      "shape": {"field": "series", "type": "nominal",
                "scale": {"domain": ["gigabit switches", "IPv4"], "range": ["M-1,0L1,0M0,-1L0,1", "M-1,-1L1,1M-1,1L1,-1"]},
                "legend": {"title": null, "orient": "none", "legendX": 374, "legendY": 6, "labelAlign": "right", "labelOffset": -53, "labelFontSize": 20, "labelColor": "black", "labelLimit": 0, "symbolSize": 49, "symbolStrokeWidth": 1, "symbolStrokeColor": "black", "symbolOpacity": 1, "padding": 0, "rowPadding": -3.5}}
    }
  },
  {
    "mark": {"type": "point", "opacity": 0},
    "encoding": {
      "x": {"field": "rate", "type": "quantitative", "axis": {"orient": "top", "values": [8,10,12,14,16,18,20,22,24,26,28], "labels": false, "title": null}},
      "y": {"field": "distance", "type": "quantitative", "axis": {"orient": "right", "values": [0,100,200,300,400,500,600,700,800,900], "labels": false, "title": null}}
    }
  }
],
"resolve": {"axis": {"x": "independent", "y": "independent"}}
}
